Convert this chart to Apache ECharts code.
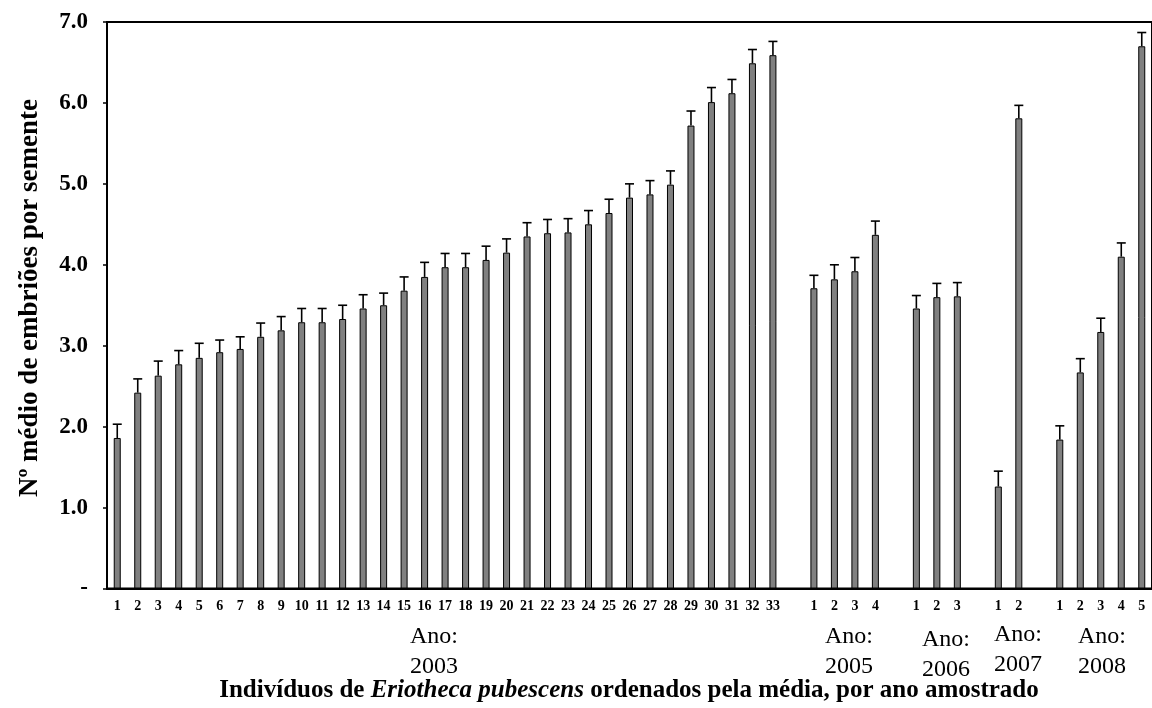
<!DOCTYPE html>
<html>
<head>
<meta charset="utf-8">
<script src="https://cdn.jsdelivr.net/npm/echarts@6/dist/echarts.min.js"></script>
<style>
html,body{margin:0;padding:0;background:#fff;}
#chart{width:1152px;height:708px;}
</style>
</head>
<body>
<div id="chart"></div>
<script>
// ---- data ----
const years = ['2003', '2005', '2006', '2007', '2008'];
const labels2003 = ['1','2','3','4','5','6','7','8','9','10','11','12','13','14','15','16','17','18','19','20','21','22','23','24','25','26','27','28','29','30','31','32','33'];
const means2003 = [1.86,2.42,2.63,2.77,2.85,2.92,2.96,3.11,3.19,3.29,3.29,3.33,3.46,3.50,3.68,3.85,3.97,3.97,4.06,4.15,4.35,4.39,4.40,4.50,4.64,4.83,4.87,4.99,5.72,6.01,6.12,6.49,6.59];
const err2003   = [0.17,0.17,0.18,0.17,0.18,0.15,0.15,0.17,0.17,0.17,0.17,0.17,0.17,0.15,0.17,0.18,0.17,0.17,0.17,0.17,0.17,0.17,0.17,0.17,0.17,0.17,0.17,0.17,0.18,0.18,0.17,0.17,0.17];
const labels2005 = ['1','2','3','4'];
const means2005 = [3.71,3.82,3.92,4.37];
const err2005   = [0.16,0.18,0.17,0.17];
const labels2006 = ['1','2','3'];
const means2006 = [3.46,3.60,3.61];
const err2006   = [0.16,0.17,0.17];
const labels2007 = ['1','2'];
const means2007 = [1.26,5.81];
const err2007   = [0.19,0.16];
const labels2008 = ['1','2','3','4','5'];
const means2008 = [1.84,2.67,3.17,4.10,6.70];
const err2008   = [0.17,0.17,0.17,0.17,0.17];
const yTickLabels = ['-','1.0','2.0','3.0','4.0','5.0','6.0','7.0'];

const groupLabels = [labels2003, labels2005, labels2006, labels2007, labels2008];
const groupMeans = [means2003, means2005, means2006, means2007, means2008];
const groupErrs = [err2003, err2005, err2006, err2007, err2008];

// build category axis with an empty slot between years
const cats = [], tickText = [], barData = [], errData = [];
groupLabels.forEach((labs, g) => {
  if (g > 0) { cats.push('gap' + g); tickText.push(''); barData.push(null); }
  labs.forEach((l, i) => {
    const idx = cats.length;
    cats.push(years[g] + '-' + l);
    tickText.push(l);
    barData.push(groupMeans[g][i]);
    errData.push([idx, groupMeans[g][i], groupErrs[g][i]]);
  });
});

const serif = '"Liberation Serif", "Times New Roman", serif';
const gridLeft = 107, gridTop = 22, slotW = 20.69;
const gridWidth = slotW * cats.length;
const gridBottom = 708 - 588.5;

// year group label positions (text placement only)
const yearLabelPos = [
  {x: 434, y1: 637, y2: 667},
  {x: 849, y1: 637, y2: 667},
  {x: 946, y1: 640, y2: 670},
  {x: 1018, y1: 635, y2: 665},
  {x: 1102, y1: 637, y2: 667}
];

const chart = echarts.init(document.getElementById('chart'), null, {renderer: 'canvas'});
const graphics = [];
years.forEach((yr, i) => {
  const p = yearLabelPos[i];
  graphics.push({type: 'text', x: p.x, y: p.y1, style: {text: 'Ano:', font: '24px ' + serif, fill: '#000', align: 'center', verticalAlign: 'middle'}});
  graphics.push({type: 'text', x: p.x, y: p.y2, style: {text: yr, font: '24px ' + serif, fill: '#000', align: 'center', verticalAlign: 'middle'}});
});
graphics.push({
  type: 'text', x: 30, y: 298, rotation: Math.PI / 2,
  style: {text: 'Nº médio de embriões por semente', font: 'bold 27px ' + serif, fill: '#000', align: 'center', verticalAlign: 'middle'}
});
graphics.push({
  type: 'text', x: 629, y: 691,
  style: {
    text: '{b|Indivíduos de }{i|Eriotheca pubescens}{b| ordenados pela média, por ano amostrado}',
    align: 'center', verticalAlign: 'middle',
    rich: {
      b: {font: 'bold 25px ' + serif, fill: '#000'},
      i: {font: 'italic bold 25px ' + serif, fill: '#000'}
    }
  }
});

chart.setOption({
  animation: false,
  backgroundColor: '#fff',
  grid: {left: gridLeft, top: gridTop, width: gridWidth, bottom: gridBottom, show: true, borderColor: '#000', borderWidth: 2, backgroundColor: 'transparent'},
  xAxis: {
    type: 'category', data: cats,
    axisLine: {show: true, lineStyle: {color: '#000', width: 2}},
    axisTick: {show: false},
    axisLabel: {interval: 0, margin: 11, color: '#000', fontFamily: serif, fontWeight: 'bold', fontSize: 14,
      formatter: (v, i) => tickText[i]},
    splitLine: {show: false}
  },
  yAxis: {
    type: 'value', min: 0, max: 7, interval: 1,
    axisLine: {show: true, lineStyle: {color: '#000', width: 2}},
    axisTick: {show: true, inside: false, length: 4, lineStyle: {color: '#000', width: 1.5}},
    axisLabel: {margin: 19, color: '#000', fontFamily: serif, fontWeight: 'bold', fontSize: 23,
      formatter: v => yTickLabels[Math.round(v)]},
    splitLine: {show: false}
  },
  series: [
    {
      type: 'bar', data: barData, barWidth: 7,
      itemStyle: {color: '#808080', borderColor: '#000', borderWidth: 1}
    },
    {
      type: 'custom', data: errData, encode: {x: 0, y: 1}, z: 3,
      renderItem: (params, api) => {
        const x = api.value(0), y = api.value(1), e = api.value(2);
        const p0 = api.coord([x, y]);
        const p1 = api.coord([x, y + e]);
        const st = {stroke: '#000', lineWidth: 1.6};
        return {type: 'group', children: [
          {type: 'line', shape: {x1: p0[0], y1: p0[1], x2: p1[0], y2: p1[1]}, style: st},
          {type: 'line', shape: {x1: p1[0] - 4.5, y1: p1[1], x2: p1[0] + 4.5, y2: p1[1]}, style: st}
        ]};
      }
    }
  ],
  graphic: graphics
});
</script>
</body>
</html>
